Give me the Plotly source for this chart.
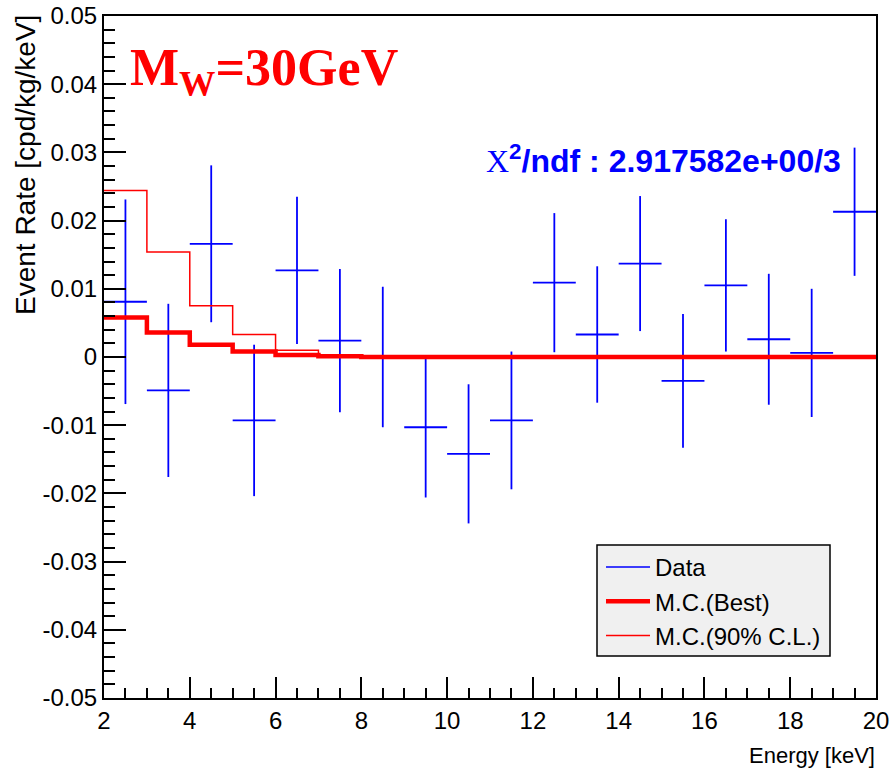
import plotly.graph_objects as go

# ---- data ----
bin_low = [2, 3, 4, 5, 6, 7, 8, 9, 10, 11, 12, 13, 14, 15, 16, 17, 18, 19]
bin_high_last = 20
bin_center = [2.5, 3.5, 4.5, 5.5, 6.5, 7.5, 8.5, 9.5, 10.5, 11.5, 12.5, 13.5, 14.5, 15.5, 16.5, 17.5, 18.5, 19.5]
data_rate = [0.0081, -0.0049, 0.0166, -0.0093, 0.0127, 0.0024, 0.0000, -0.0103, -0.0142,
             -0.0093, 0.0109, 0.0033, 0.0137, -0.0035, 0.0105, 0.0026, 0.0006, 0.0213]
data_err = [0.0150, 0.0127, 0.0115, 0.0111, 0.0108, 0.0105, 0.0103, 0.0103, 0.0102,
            0.0101, 0.0102, 0.0100, 0.0099, 0.0098, 0.0097, 0.0096, 0.0094, 0.0094]
bin_half_width = [0.5] * 18
mc_best = [0.0058, 0.0036, 0.0018, 0.0008, 0.0003, 0.0001, 0.0, 0.0, 0.0,
           0.0, 0.0, 0.0, 0.0, 0.0, 0.0, 0.0, 0.0, 0.0]
mc_90cl = [0.0244, 0.0154, 0.0075, 0.0033, 0.0010, 0.0002, 0.0001, 0.0, 0.0,
           0.0, 0.0, 0.0, 0.0, 0.0, 0.0, 0.0, 0.0, 0.0]

x_tick_vals = [2, 4, 6, 8, 10, 12, 14, 16, 18, 20]
x_tick_text = ["2", "4", "6", "8", "10", "12", "14", "16", "18", "20"]
y_tick_vals = [-0.05, -0.04, -0.03, -0.02, -0.01, 0.0, 0.01, 0.02, 0.03, 0.04, 0.05]
y_tick_text = ["-0.05", "-0.04", "-0.03", "-0.02", "-0.01", "0", "0.01", "0.02", "0.03", "0.04", "0.05"]

SANS = "Liberation Sans, Arial, sans-serif"
BLUE = "#0000ff"
RED = "#ff0000"

edges = bin_low + [bin_high_last]

fig = go.Figure()

# legend-only entry for the data
fig.add_trace(go.Scatter(x=[None], y=[None], mode="lines", name="Data",
                         line=dict(color=BLUE, width=1.5), legendrank=1))

fig.add_trace(go.Scatter(x=bin_center, y=data_rate, mode="markers", showlegend=False,
                         marker=dict(color="rgba(0,0,0,0)", size=2),
                         error_y=dict(type="data", array=data_err, visible=True,
                                      color=BLUE, thickness=1.8, width=0),
                         error_x=dict(type="data", array=bin_half_width, visible=True,
                                      color=BLUE, thickness=1.8, width=0)))

fig.add_trace(go.Scatter(x=edges, y=mc_90cl + [mc_90cl[-1]], mode="lines", line_shape="hv",
                         name="M.C.(90% C.L.)", line=dict(color=RED, width=1.5), legendrank=3))
fig.add_trace(go.Scatter(x=edges, y=mc_best + [mc_best[-1]], mode="lines", line_shape="hv",
                         name="M.C.(Best)", line=dict(color=RED, width=4.5), legendrank=2))

axis_common = dict(showgrid=False, zeroline=False, showline=True, linecolor="black",
                   linewidth=2, mirror=True, ticks="inside", tickcolor="black",
                   tickwidth=2, automargin=False,
                   tickfont=dict(family=SANS, size=24, color="black"))

fig.update_xaxes(range=[2, 20], tickmode="array", tickvals=x_tick_vals, ticktext=x_tick_text,
                 ticklen=21,
                 minor=dict(dtick=0.5, ticks="inside", ticklen=10, tickwidth=2, tickcolor="black",
                            showgrid=False),
                 **axis_common)
fig.update_yaxes(range=[-0.05, 0.05], tickmode="array", tickvals=y_tick_vals, ticktext=y_tick_text,
                 ticklen=22,
                 minor=dict(dtick=0.002, tick0=0, ticks="inside", ticklen=11, tickwidth=2,
                            tickcolor="black", showgrid=False),
                 **axis_common)

W_L, W_T = 104, 16
PW, PH = 772, 682


def px_x(p):
    return (p - W_L) / PW


def px_y(p):
    return (W_T + PH - p) / PH


fig.add_shape(type="rect", xref="paper", yref="paper",
              x0=px_x(597), x1=px_x(830), y0=px_y(656), y1=px_y(545),
              fillcolor="#f0f0f0", line=dict(color="black", width=1.5), layer="above")

fig.update_layout(
    width=892, height=771,
    margin=dict(l=W_L, r=892 - W_L - PW, t=W_T, b=771 - W_T - PH),
    paper_bgcolor="white", plot_bgcolor="white",
    showlegend=True,
    legend=dict(x=px_x(601), y=px_y(545), xanchor="left", yanchor="top",
                bgcolor="rgba(0,0,0,0)", borderwidth=0, itemwidth=44,
                font=dict(family=SANS, size=24, color="black"), tracegroupgap=0),
    annotations=[
        dict(text="Event Rate [cpd/kg/keV]", textangle=-90, xref="paper", yref="paper",
             x=px_x(25), y=px_y(13), xanchor="center", yanchor="top", showarrow=False,
             font=dict(family=SANS, size=28, color="black")),
        dict(text="Energy [keV]", xref="paper", yref="paper", x=px_x(877), y=px_y(755),
             xanchor="right", yanchor="middle", showarrow=False,
             font=dict(family=SANS, size=22, color="black")),
        dict(text="M<sub>W</sub>=30GeV", xref="paper", yref="paper", x=px_x(128), y=px_y(37),
             xanchor="left", yanchor="top", showarrow=False,
             font=dict(family="Liberation Serif, Times New Roman, serif", size=52, color=RED,
                       weight="bold")),
        dict(text="<span style=\"font-family:'Liberation Serif';font-weight:normal\">Χ</span>"
                  "<sup>2</sup>/ndf : 2.917582e+00/3",
             xref="paper", yref="paper", x=px_x(484), y=px_y(159),
             xanchor="left", yanchor="middle", showarrow=False,
             font=dict(family=SANS, size=32, color=BLUE, weight="bold")),
    ],
)

fig.write_html("out.html")
